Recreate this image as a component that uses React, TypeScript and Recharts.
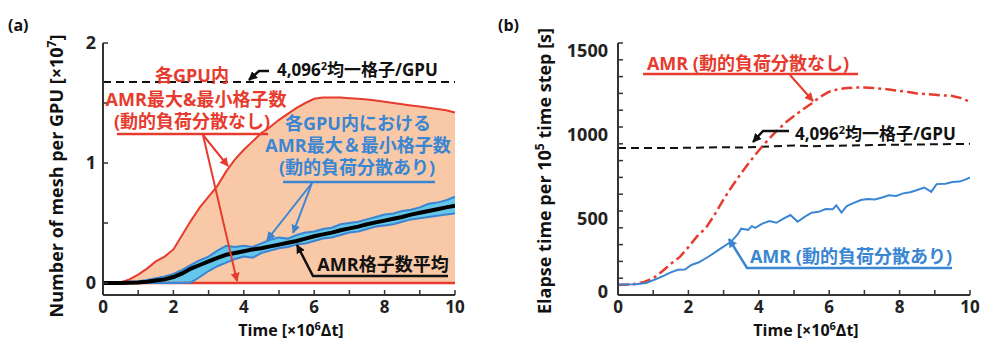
import React from 'react';
import { ComposedChart, Line, Area, XAxis, YAxis, ReferenceLine } from 'recharts';

// ---------- shared ----------
const timeSteps = [0, 0.25, 0.5, 0.75, 1, 1.25, 1.5, 1.75, 2, 2.25, 2.5, 2.75, 3, 3.25, 3.5, 3.75, 4, 4.25, 4.5, 4.75, 5, 5.25, 5.5, 5.75, 6, 6.25, 6.5, 6.75, 7, 7.25, 7.5, 7.75, 8, 8.25, 8.5, 8.75, 9, 9.25, 9.5, 9.75, 10];
const xTicks = [0, 1, 2, 3, 4, 5, 6, 7, 8, 9, 10];
const xTickLabels = ['0', '', '2', '', '4', '', '6', '', '8', '', '10'];

// ---------- panel (a): mesh per GPU [x10^7] ----------
const redMaxA = [0, 0, 0.005, 0.03, 0.07, 0.12, 0.18, 0.22, 0.28, 0.40, 0.52, 0.63, 0.72, 0.81, 0.93, 1.03, 1.11, 1.18, 1.25, 1.30, 1.36, 1.41, 1.46, 1.50, 1.535, 1.545, 1.545, 1.545, 1.54, 1.535, 1.53, 1.52, 1.51, 1.50, 1.49, 1.48, 1.47, 1.46, 1.45, 1.44, 1.42];
const redMinA = [0, 0, 0, 0, 0, 0, 0, 0, 0, 0, 0, 0, 0, 0, 0, 0, 0, 0, 0, 0, 0, 0, 0, 0, 0, 0, 0, 0, 0, 0, 0, 0, 0, 0, 0, 0, 0, 0, 0, 0, 0];
const blueMaxA = [0.005, 0.005, 0.006, 0.01, 0.015, 0.025, 0.04, 0.055, 0.075, 0.11, 0.15, 0.19, 0.22, 0.27, 0.31, 0.30, 0.31, 0.30, 0.33, 0.36, 0.38, 0.37, 0.40, 0.42, 0.43, 0.45, 0.46, 0.49, 0.50, 0.51, 0.53, 0.55, 0.57, 0.58, 0.60, 0.61, 0.63, 0.66, 0.67, 0.69, 0.72];
const blueMinA = [0, 0, 0, 0, 0, 0, 0, 0, 0, 0, 0.005, 0.05, 0.10, 0.14, 0.17, 0.20, 0.22, 0.21, 0.25, 0.27, 0.29, 0.30, 0.32, 0.33, 0.35, 0.37, 0.38, 0.40, 0.42, 0.43, 0.45, 0.47, 0.48, 0.49, 0.51, 0.53, 0.54, 0.55, 0.56, 0.57, 0.58];
const meanA = [0, 0, 0, 0.002, 0.005, 0.01, 0.02, 0.03, 0.05, 0.08, 0.12, 0.15, 0.18, 0.21, 0.235, 0.25, 0.265, 0.28, 0.29, 0.305, 0.32, 0.335, 0.35, 0.37, 0.39, 0.405, 0.42, 0.44, 0.455, 0.47, 0.49, 0.505, 0.52, 0.535, 0.55, 0.57, 0.585, 0.60, 0.615, 0.63, 0.645];
const uniformA = 1.675;
const yTicksA = [0, 0.5, 1, 1.5, 2];
const yTickLabelsA = ['0', '', '1', '', '2'];

// ---------- panel (b): elapse time [s] ----------
const redB = [60, 62, 66, 78, 100, 140, 185, 225, 285, 350, 400, 480, 570, 650, 725, 795, 860, 920, 975, 1025, 1065, 1105, 1140, 1180, 1210, 1225, 1232, 1235, 1235, 1232, 1228, 1222, 1215, 1208, 1200, 1196, 1192, 1188, 1185, 1172, 1150];
const blueTimeB = [0, 0.5, 0.8, 1.2, 1.5, 1.7, 1.9, 2.1, 2.3, 2.6, 2.9, 3.2, 3.4, 3.5, 3.6, 3.7, 3.8, 3.9, 4.1, 4.3, 4.5, 4.7, 4.9, 5.1, 5.3, 5.5, 5.7, 5.9, 6.1, 6.2, 6.35, 6.5, 6.7, 6.9, 7.1, 7.3, 7.5, 7.7, 7.9, 8.1, 8.3, 8.5, 8.7, 8.9, 9.05, 9.3, 9.5, 9.7, 9.9, 10];
const blueB = [62, 64, 72, 105, 135, 150, 152, 180, 195, 232, 275, 315, 360, 395, 392, 388, 410, 400, 425, 440, 430, 455, 476, 436, 465, 490, 495, 512, 510, 534, 490, 530, 548, 565, 572, 568, 580, 594, 590, 605, 612, 625, 640, 614, 660, 662, 672, 675, 690, 700];
const uniformTimeB = [0, 1, 2, 3, 3.5, 4, 5, 5.5, 6, 7, 8, 9, 10];
const uniformB = [875, 875, 876, 880, 878, 882, 890, 886, 888, 892, 895, 897, 900];
const yTicksB = [0, 100, 200, 300, 400, 500, 600, 700, 800, 900, 1000, 1100, 1200, 1300, 1400, 1500];
const yTickLabelsB: Record<number, string> = { 0: '0', 500: '500', 1000: '1000', 1500: '1500' };

// ---------- styles ----------
const FONT = "'Open Sans','Noto Sans CJK JP',sans-serif";
const RED = '#e63b2e';
const BLUE = '#3a86d2';
const PEACH = '#f9c9a7';
const CYAN = '#63c6ea';
const FRAME = '#333';

const dataA = timeSteps.map((t, i) => ({
  t,
  redMax: redMaxA[i],
  redMin: redMinA[i],
  blueMax: blueMaxA[i],
  blueMin: blueMinA[i],
  mean: meanA[i],
}));
const dataBRed = timeSteps.map((t, i) => ({ t, v: redB[i] }));
const dataBBlue = blueTimeB.map((t, i) => ({ t, v: blueB[i] }));
const dataBUni = uniformTimeB.map((t, i) => ({ t, v: uniformB[i] }));

const tickStyle = { fontSize: 18, fontWeight: 700, fill: '#222', fontFamily: FONT };
const xTickStyle = { fontSize: 17, fontWeight: 700, fill: '#222', fontFamily: FONT };
const axisLine = { stroke: FRAME, strokeWidth: 2 };
const tickLine = { stroke: FRAME, strokeWidth: 1.5 };

const fmtX = (v: number) => xTickLabels[xTicks.indexOf(v)] ?? '';
const fmtYA = (v: number) => yTickLabelsA[yTicksA.indexOf(v)] ?? '';

const TickB = (props: any) => {
  const { x, y, payload } = props;
  const label = yTickLabelsB[payload.value] ?? '';
  if (!label) return null;
  const dy = payload.value === 0 ? -4 : 7;
  return (
    <text x={x} y={y + dy} textAnchor="end" dominantBaseline="central" style={tickStyle as any}>
      {label}
    </text>
  );
};

function PanelA() {
  return (
    <ComposedChart width={490} height={341} data={dataA} margin={{ top: 43, right: 35, bottom: 0, left: 0 }}>
      <XAxis dataKey="t" type="number" domain={[0, 10]} ticks={xTicks} interval={0} tickFormatter={fmtX}
        tickSize={-5} tickMargin={11} height={46} axisLine={axisLine} tickLine={tickLine} tick={xTickStyle} allowDataOverflow />
      <XAxis xAxisId="top" orientation="top" type="number" domain={[0, 10]} ticks={xTicks} interval={0}
        tick={false} tickSize={-5} height={0} axisLine={axisLine} tickLine={tickLine} />
      <YAxis type="number" domain={[-0.1, 2]} ticks={yTicksA} interval={0} tickFormatter={fmtYA}
        tickSize={-5} tickMargin={12} width={103} axisLine={axisLine} tickLine={tickLine} tick={tickStyle} allowDataOverflow />
      <YAxis yAxisId="right" orientation="right" type="number" domain={[-0.1, 2]} ticks={yTicksA} interval={0}
        tick={false} tickSize={-5} width={0} axisLine={axisLine} tickLine={tickLine} />
      <Area dataKey={(d: any) => [d.redMin, d.redMax]} stroke="none" fill={PEACH} fillOpacity={1} isAnimationActive={false} />
      <Line dataKey="redMax" stroke={RED} strokeWidth={2} dot={false} isAnimationActive={false} />
      <Line dataKey="redMin" stroke={RED} strokeWidth={2.5} dot={false} isAnimationActive={false} />
      <Area dataKey={(d: any) => [d.blueMin, d.blueMax]} stroke="none" fill={CYAN} fillOpacity={1} isAnimationActive={false} />
      <Line dataKey="blueMax" stroke={BLUE} strokeWidth={2} dot={false} isAnimationActive={false} />
      <Line dataKey="blueMin" stroke={BLUE} strokeWidth={2} dot={false} isAnimationActive={false} />
      <Line dataKey="mean" stroke="#000" strokeWidth={4} dot={false} isAnimationActive={false} />
      <ReferenceLine y={uniformA} stroke="#111" strokeWidth={2} strokeDasharray="8 5" />
    </ComposedChart>
  );
}

function PanelB() {
  return (
    <ComposedChart width={491} height={341} margin={{ top: 43, right: 11, bottom: 0, left: 0 }}>
      <XAxis dataKey="t" type="number" domain={[0, 10]} ticks={xTicks} interval={0} tickFormatter={fmtX}
        tickSize={-5} tickMargin={11} height={46} axisLine={axisLine} tickLine={tickLine} tick={xTickStyle} allowDataOverflow />
      <XAxis xAxisId="top" orientation="top" type="number" domain={[0, 10]} ticks={xTicks} interval={0}
        tick={false} tickSize={-5} height={0} axisLine={axisLine} tickLine={tickLine} />
      <YAxis type="number" domain={[0, 1500]} ticks={yTicksB} interval={0} tick={<TickB />}
        tickSize={-5} tickMargin={15} width={128} axisLine={axisLine} tickLine={tickLine} allowDataOverflow />
      <YAxis yAxisId="right" orientation="right" type="number" domain={[0, 1500]} ticks={yTicksB} interval={0}
        tick={false} tickSize={-5} width={0} axisLine={axisLine} tickLine={tickLine} />
      <Line data={dataBUni} dataKey="v" stroke="#111" strokeWidth={2} strokeDasharray="8 5" dot={false} isAnimationActive={false} />
      <Line data={dataBRed} dataKey="v" stroke={RED} strokeWidth={2.5} strokeDasharray="11 4 3 4" dot={false} isAnimationActive={false} />
      <Line data={dataBBlue} dataKey="v" stroke={BLUE} strokeWidth={2} dot={false} isAnimationActive={false} />
    </ComposedChart>
  );
}

const txt = (color: string, size = 18) => ({ fill: color, fontSize: size, fontWeight: 700, fontFamily: FONT });

function Overlay() {
  return (
    <svg width={981} height={341} style={{ position: 'absolute', left: 0, top: 0, pointerEvents: 'none' }}>
      <defs>
        {[['r', RED], ['b', BLUE], ['k', '#111']].map(([id, c]) => (
          <marker key={id} id={`ah-${id}`} viewBox="0 0 10 10" refX="9" refY="5" markerWidth="9" markerHeight="9"
            markerUnits="userSpaceOnUse" orient="auto">
            <path d="M0,0 L10,5 L0,10 z" fill={c} />
          </marker>
        ))}
      </defs>
      {/* panel labels */}
      <text x={8} y={31} style={txt('#111', 16) as any}>(a)</text>
      <text x={498} y={31} style={txt('#111', 16) as any}>(b)</text>

      {/* axis titles */}
      <text transform="translate(63,176) rotate(-90)" textAnchor="middle" style={txt('#111', 18) as any}>
        Number of mesh per GPU [×10<tspan dy={-7} fontSize={12}>7</tspan><tspan dy={7}>]</tspan>
      </text>
      <text x={291} y={336} textAnchor="middle" style={txt('#111', 16) as any}>
        Time [×10<tspan dy={-6} fontSize={11}>6</tspan><tspan dy={6}>Δt]</tspan>
      </text>
      <text transform="translate(551,171) rotate(-90)" textAnchor="middle" style={txt('#111', 18) as any}>
        Elapse time per 10<tspan dy={-7} fontSize={12}>5</tspan><tspan dy={7}> time step [s]</tspan>
      </text>
      <text x={806} y={336} textAnchor="middle" style={txt('#111', 16) as any}>
        Time [×10<tspan dy={-6} fontSize={11}>6</tspan><tspan dy={6}>Δt]</tspan>
      </text>

      {/* panel (a) red annotation */}
      <text x={192} y={82} textAnchor="middle" style={txt(RED) as any}>各GPU内</text>
      <text x={196} y={106} textAnchor="middle" style={txt(RED) as any}>AMR最大&amp;最小格子数</text>
      <text x={192} y={128} textAnchor="middle" style={txt(RED) as any}>(動的負荷分散なし)</text>
      <line x1={117} y1={134} x2={268} y2={134} stroke={RED} strokeWidth={2.5} />
      <line x1={203} y1={135} x2={228} y2={166} stroke={RED} strokeWidth={2} markerEnd="url(#ah-r)" />
      <line x1={203} y1={135} x2={237} y2={281} stroke={RED} strokeWidth={2} markerEnd="url(#ah-r)" />

      {/* panel (a) blue annotation */}
      <text x={358} y={130} textAnchor="middle" style={txt(BLUE) as any}>各GPU内における</text>
      <text x={358} y={152} textAnchor="middle" style={txt(BLUE) as any}>AMR最大＆最小格子数</text>
      <text x={357} y={174} textAnchor="middle" style={txt(BLUE) as any}>(動的負荷分散あり)</text>
      <line x1={283} y1={182} x2={435} y2={182} stroke={BLUE} strokeWidth={2.5} />
      <line x1={312} y1={183} x2={267} y2={240} stroke={BLUE} strokeWidth={2} markerEnd="url(#ah-b)" />
      <line x1={312} y1={183} x2={293} y2={233} stroke={BLUE} strokeWidth={2} markerEnd="url(#ah-b)" />

      {/* panel (a) mean annotation */}
      <text x={383} y={271} textAnchor="middle" style={txt('#111') as any}>AMR格子数平均</text>
      <polyline points="448,276 313,276 297,245" fill="none" stroke="#111" strokeWidth={2.5} markerEnd="url(#ah-k)" />

      {/* panel (a) uniform annotation */}
      <text x={277} y={76} style={txt('#111', 17) as any}>4,096<tspan dy={-6} fontSize={11}>2</tspan><tspan dy={6}>均一格子/GPU</tspan></text>
      <polyline points="269,71 259,71 249,80" fill="none" stroke="#111" strokeWidth={2.5} markerEnd="url(#ah-k)" />

      {/* panel (b) red annotation */}
      <text x={748} y={70} textAnchor="middle" style={txt(RED) as any}>AMR (動的負荷分散なし)</text>
      <line x1={643} y1={74} x2={858} y2={74} stroke={RED} strokeWidth={2.5} />
      <line x1={790} y1={75} x2={813} y2={101} stroke={RED} strokeWidth={2} markerEnd="url(#ah-r)" />

      {/* panel (b) uniform annotation */}
      <text x={795} y={140} style={txt('#111', 17) as any}>4,096<tspan dy={-6} fontSize={11}>2</tspan><tspan dy={6}>均一格子/GPU</tspan></text>
      <polyline points="789,131 763,131 753,142" fill="none" stroke="#111" strokeWidth={2.5} markerEnd="url(#ah-k)" />

      {/* panel (b) blue annotation */}
      <text x={851} y={263} textAnchor="middle" style={txt(BLUE) as any}>AMR (動的負荷分散あり)</text>
      <polyline points="952,268 747,268 729,239" fill="none" stroke={BLUE} strokeWidth={2.5} markerEnd="url(#ah-b)" />
    </svg>
  );
}

export default function App() {
  return (
    <div style={{ position: 'absolute', left: 0, top: 0, width: 981, height: 341, background: '#fff', overflow: 'hidden' }}>
      <div style={{ position: 'absolute', left: 0, top: 0 }}>
        <PanelA />
      </div>
      <div style={{ position: 'absolute', left: 490, top: 0 }}>
        <PanelB />
      </div>
      <Overlay />
    </div>
  );
}
